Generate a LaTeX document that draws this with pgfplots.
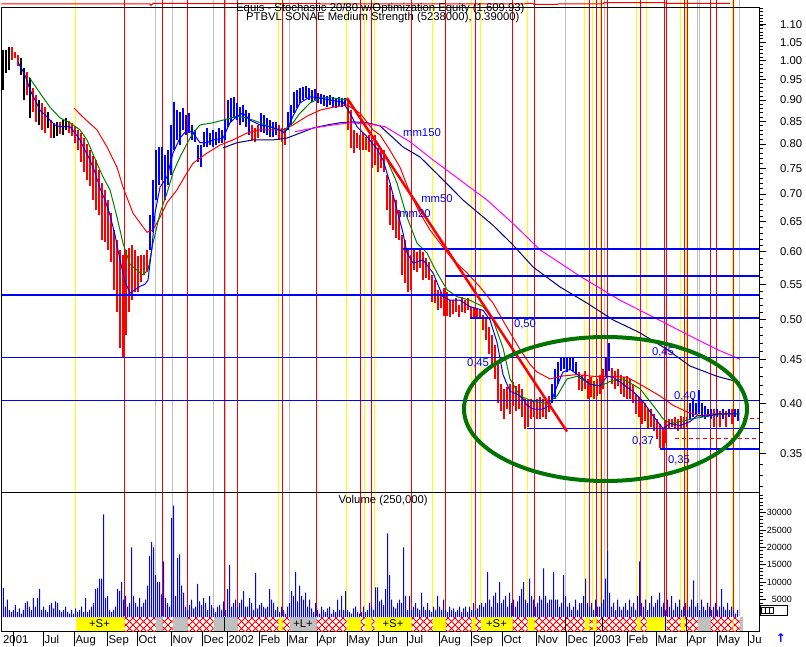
\documentclass[border=0pt]{standalone}
\usepackage{pgfplots}
\pgfplotsset{compat=1.18}
\usepackage{pgfplotstable}
\usepackage{fontspec}
\setmainfont{Liberation Sans}
\newfontfamily\dejavu{DejaVu Sans}
\usetikzlibrary{patterns}

\definecolor{mared}{RGB}{255,0,0}
\definecolor{mablue}{RGB}{0,0,255}
\definecolor{magreen}{RGB}{0,128,0}
\definecolor{manavy}{RGB}{0,0,128}
\definecolor{mamag}{RGB}{255,0,255}
\definecolor{mayel}{RGB}{255,255,0}
\definecolor{magrey}{RGB}{192,192,192}
\definecolor{ellgreen}{RGB}{0,115,0}

\pgfdeclarepatternformonly{xhatch}{\pgfqpoint{-1pt}{-1pt}}{\pgfqpoint{8pt}{8pt}}{\pgfqpoint{7pt}{7pt}}{%
  \pgfsetlinewidth{1pt}%
  \pgfpathmoveto{\pgfqpoint{0pt}{0pt}}\pgfpathlineto{\pgfqpoint{7pt}{7pt}}%
  \pgfpathmoveto{\pgfqpoint{0pt}{7pt}}\pgfpathlineto{\pgfqpoint{7pt}{0pt}}%
  \pgfusepath{stroke}}

\newcommand\ff{\fontsize{11.3}{13}\selectfont}
\newcommand\cellY[2]{\addplot[fill=mayel, draw=none] coordinates {(#1,-4100) (#2,-4100) (#2,0) (#1,0)} --cycle;}
\newcommand\cellG[2]{\addplot[fill=magrey, draw=none] coordinates {(#1,-4100) (#2,-4100) (#2,0) (#1,0)} --cycle;}
\newcommand\cellH[2]{\addplot[pattern=xhatch, pattern color=mared, draw=none] coordinates {(#1,-4100) (#2,-4100) (#2,0) (#1,0)} --cycle;}
\newcommand\cellK[1]{\addplot[black, line width=1.5pt] coordinates {(#1,-4100) (#1,0)};}

% price bars: x, low, high
\pgfplotstableread{
x lo hi
3 0.925 1.029
6 0.968 1.029
9 0.975 1.037
21 0.962 1.007
24 0.900 0.981
30 0.858 0.955
39 0.842 0.900
48 0.835 0.872
54 0.813 0.847
57 0.818 0.849
63 0.820 0.853
66 0.831 0.858
}\blackbars

\pgfplotstableread{
x lo hi
12 1.002 1.037
15 1.007 1.023
18 0.985 1.015
27 0.912 0.970
33 0.872 0.929
36 0.849 0.912
42 0.831 0.893
45 0.824 0.883
51 0.813 0.853
60 0.822 0.849
69 0.824 0.851
72 0.818 0.847
75 0.803 0.840
78 0.787 0.831
81 0.762 0.824
84 0.742 0.813
87 0.727 0.800
90 0.715 0.787
93 0.689 0.775
96 0.671 0.767
99 0.662 0.746
102 0.619 0.721
105 0.616 0.708
108 0.603 0.689
111 0.584 0.665
114 0.542 0.636
117 0.511 0.619
120 0.464 0.603
123 0.453 0.595
126 0.480 0.603
129 0.511 0.606
132 0.527 0.611
135 0.539 0.603
138 0.539 0.593
141 0.553 0.595
144 0.564 0.595
147 0.568 0.603
252 0.809 0.842
255 0.805 0.835
258 0.813 0.842
279 0.809 0.842
282 0.805 0.835
285 0.798 0.835
348 0.831 0.900
351 0.792 0.876
354 0.781 0.831
357 0.792 0.824
360 0.787 0.820
363 0.787 0.824
366 0.787 0.816
369 0.783 0.820
372 0.750 0.809
375 0.756 0.820
378 0.742 0.792
381 0.750 0.787
384 0.742 0.787
387 0.671 0.737
390 0.644 0.717
393 0.636 0.698
396 0.622 0.689
399 0.619 0.671
402 0.564 0.627
405 0.552 0.619
408 0.539 0.603
411 0.542 0.595
414 0.571 0.603
417 0.568 0.600
420 0.574 0.603
423 0.556 0.600
426 0.559 0.590
429 0.556 0.584
432 0.524 0.564
435 0.523 0.556
438 0.513 0.542
441 0.516 0.539
444 0.505 0.544
447 0.505 0.539
450 0.504 0.527
453 0.508 0.527
456 0.511 0.530
459 0.504 0.520
462 0.511 0.532
465 0.509 0.527
468 0.513 0.530
471 0.504 0.518
474 0.504 0.516
477 0.504 0.516
480 0.504 0.513
483 0.487 0.507
486 0.474 0.503
489 0.456 0.490
492 0.444 0.480
495 0.427 0.468
498 0.400 0.444
501 0.392 0.421
504 0.384 0.416
507 0.394 0.418
510 0.389 0.421
513 0.397 0.423
516 0.392 0.419
519 0.394 0.421
522 0.386 0.416
525 0.374 0.405
528 0.376 0.403
531 0.384 0.405
534 0.386 0.403
537 0.384 0.405
540 0.384 0.407
543 0.386 0.405
546 0.384 0.405
549 0.391 0.408
579 0.414 0.435
582 0.413 0.432
585 0.416 0.436
588 0.405 0.427
591 0.407 0.429
594 0.405 0.425
597 0.408 0.427
600 0.410 0.432
603 0.416 0.438
612 0.421 0.440
615 0.416 0.436
618 0.419 0.438
621 0.410 0.432
624 0.407 0.429
627 0.405 0.430
630 0.405 0.427
633 0.400 0.421
636 0.389 0.410
639 0.386 0.407
642 0.379 0.403
645 0.382 0.400
648 0.374 0.394
651 0.376 0.394
654 0.372 0.389
657 0.364 0.384
660 0.355 0.379
663 0.353 0.374
666 0.360 0.382
669 0.374 0.384
672 0.376 0.384
675 0.374 0.386
678 0.372 0.384
681 0.374 0.387
684 0.374 0.386
687 0.376 0.386
714 0.376 0.394
720 0.376 0.392
726 0.376 0.392
732 0.379 0.394
}\redbars

\pgfplotstableread{
x lo hi
150 0.603 0.662
153 0.632 0.727
156 0.689 0.787
159 0.717 0.794
162 0.727 0.794
165 0.689 0.777
168 0.717 0.787
171 0.737 0.842
174 0.787 0.895
177 0.809 0.876
180 0.798 0.872
183 0.831 0.881
186 0.820 0.865
189 0.824 0.869
192 0.809 0.842
195 0.805 0.831
198 0.762 0.798
201 0.752 0.798
204 0.794 0.827
207 0.794 0.835
210 0.798 0.824
213 0.794 0.831
216 0.798 0.827
219 0.803 0.835
222 0.803 0.831
225 0.809 0.853
228 0.838 0.900
231 0.849 0.905
234 0.858 0.908
237 0.853 0.893
240 0.842 0.883
243 0.849 0.888
246 0.838 0.876
249 0.820 0.869
261 0.827 0.869
264 0.824 0.865
267 0.820 0.858
270 0.816 0.853
273 0.816 0.849
276 0.820 0.849
288 0.831 0.872
291 0.842 0.888
294 0.869 0.920
297 0.881 0.925
300 0.893 0.929
303 0.900 0.932
306 0.905 0.934
309 0.900 0.929
312 0.895 0.925
315 0.900 0.927
318 0.893 0.917
321 0.890 0.915
324 0.886 0.912
327 0.883 0.910
330 0.888 0.912
333 0.883 0.908
336 0.881 0.905
339 0.886 0.908
342 0.883 0.905
345 0.888 0.905
552 0.400 0.421
555 0.405 0.438
558 0.421 0.447
561 0.436 0.453
564 0.438 0.453
567 0.435 0.453
570 0.438 0.452
573 0.436 0.453
576 0.432 0.447
606 0.429 0.452
609 0.436 0.470
690 0.384 0.400
693 0.386 0.405
696 0.389 0.400
699 0.389 0.414
702 0.386 0.400
705 0.384 0.397
708 0.386 0.394
711 0.384 0.394
717 0.386 0.394
723 0.384 0.394
729 0.386 0.394
735 0.386 0.394
738 0.382 0.394
}\bluebars

\begin{document}
\begin{tikzpicture}[x=1pt,y=1pt]
\useasboundingbox (0,0) rectangle (806,646);

% ---------- frame axis: vertical marker lines and equity strip ----------
\begin{axis}[at={(1.5pt,30pt)}, anchor=south west, scale only axis,
  width=757.5pt, height=616pt, xmin=1.5, xmax=759, ymin=0, ymax=616,
  hide axis, clip=false]
\addplot[ycomb, magrey, line width=1pt, mark=none] coordinates {
(155.5,616) (172.5,616) (213.5,616) (225.5,616) (289.5,616) (565.5,616)
(604.5,616) (697.5,616) (699.5,616) (739.5,616)};
\addplot[ycomb, mayel, line width=1pt, mark=none] coordinates {
(75.5,616) (278.5,616) (346.5,616) (364.5,616) (374.5,616) (432.5,616)
(471.5,616) (480.5,616) (527.5,616) (584.5,616) (592.5,616) (600.5,616)
(636.5,616) (646.5,616) (680.5,616) (686.5,616) (732.5,616)};
\addplot[ycomb, mared, line width=1pt, mark=none] coordinates {
(124.5,616) (162.5,616) (187.5,616) (224.5,616) (237.5,616) (282.5,616)
(316.5,616) (360.5,616) (371.5,616) (411.5,616) (445.5,616) (475.5,616)
(512.5,616) (534.5,616) (589.5,616) (596.5,616) (601.5,616) (607.5,616)
(640.5,616) (664.5,616) (666.5,616) (684.5,616) (687.5,616) (710.5,616)
(716.5,616) (733.5,616)};
% equity curve
\addplot[mared, line width=1pt, mark=none] coordinates {
(1.5,612) (150,612) (151,610.5) (153,612.7) (187,612.7) (188,612.3)
(320,612.3) (322,612) (525,612) (526,612.5) (533,612.5) (534,611.5)
(557,611.5) (558,612) (603,612) (604,613.3) (665,613.3) (666,612.7) (730,612.7)};
\end{axis}

% ---------- volume axis ----------
\begin{axis}[at={(1.5pt,15pt)}, anchor=south west, scale only axis,
  width=757.5pt, height=139pt, xmin=1.5, xmax=759, ymin=-4023, ymax=35920,
  axis line style={black, line width=1pt},
  xtick=\empty,
  ytick={5000,10000,15000,20000,25000,30000},
  yticklabels={5000,10000,15000,20000,25000,30000},
  minor ytick={1000,2000,...,35000},
  scaled y ticks=false,
  ytick pos=right, yticklabel pos=right, tick align=outside,
  major tick length=7pt, minor tick length=4pt,
  every tick/.style={black, line width=1pt},
  yticklabel style={font=\fontsize{9}{10}\selectfont, anchor=east, inner sep=0pt, xshift=26pt},
  clip=true]
% bottom band
\cellY{75.5}{124.5}
\cellH{124.5}{155.5}
\cellG{155.5}{162.5}
\cellH{162.5}{172.5}
\cellG{172.5}{187.5}
\cellH{187.5}{213.5}
\cellG{213.5}{224}
\cellG{225}{237.5}
\cellK{224.5}
\cellH{237.5}{278.5}
\cellY{278.5}{282.5}
\cellH{282.5}{289.5}
\cellG{289.5}{316.5}
\cellH{316.5}{346.5}
\cellY{346.5}{360.5}
\cellH{360.5}{364.5}
\cellY{364.5}{371.5}
\cellH{371.5}{374.5}
\cellY{374.5}{411.5}
\cellH{411.5}{432.5}
\cellY{432.5}{445.5}
\cellH{445.5}{471.5}
\cellY{471.5}{475.5}
\cellH{475.5}{480.5}
\cellY{480.5}{512.5}
\cellH{512.5}{527.5}
\cellY{527.5}{534.5}
\cellH{534.5}{584.5}
\cellK{565.5}
\cellY{584.5}{589.5}
\cellH{589.5}{592.5}
\cellY{592.5}{596.5}
\cellH{596.5}{636.5}
\cellK{602.5}
\cellY{636.5}{640.5}
\cellH{640.5}{646.5}
\cellY{646.5}{664.5}
\cellK{665.5}
\cellH{666.5}{680.5}
\cellY{680.5}{684.5}
\cellH{684.5}{697.5}
\cellK{686.5}
\cellG{697.5}{710.5}
\cellH{710.5}{732.5}
\cellY{732.5}{733.5}
\cellH{733.5}{739.5}
\cellG{739.5}{743}
\node[font=\ff] at (axis cs:99.5,-1900) {+S+};
\node[font=\ff] at (axis cs:303,-1900) {+L+};
\node[font=\ff] at (axis cs:393,-1900) {+S+};
\node[font=\ff] at (axis cs:496.5,-1900) {+S+};
% volume bars
\addplot[ybar, bar width=1pt, bar shift=0.5pt, fill=mablue, draw=none] coordinates {
(3,8400)(5,3000)(7,5000)(9,2000)(11,1500)(13,2000)(15,3500)(17,1500)(19,2500)(21,1000)
(23,2000)(25,4000)(27,4500)(29,3000)(31,2000)(33,5500)(35,3000)(37,5500)(39,8000)(41,2000)
(43,3000)(45,2000)(47,1500)(49,3500)(51,4000)(53,2500)(55,4500)(57,4000)(59,2000)(61,1500)
(63,2000)(65,3000)(67,1500)(69,1000)(71,2000)(73,1000)(75,2500)(77,1500)(79,2000)(81,3000)
(83,1500)(85,5500)(87,1500)(89,2000)(91,3000)(93,4000)(95,8000)(97,8400)(99,11000)(101,11000)
(103,29500)(105,5500)(107,6000)(109,2000)(111,1500)(113,2000)(115,3000)(117,8000)(119,7500)(121,10000)
(123,5000)(125,6000)(127,3000)(129,4000)(131,20000)(133,6000)(135,4000)(137,3000)(139,5500)(141,3000)
(143,4000)(145,5000)(147,9000)(149,17500)(151,21500)(153,20000)(155,12000)(157,10000)(159,10000)(161,6500)
(163,16000)(165,5500)(167,4000)(169,3000)(171,28500)(173,32000)(175,6000)(177,17000)(179,18000)(181,9000)
(183,7000)(185,3000)(187,2000)(189,3500)(191,5000)(193,2500)(195,3000)(197,9500)(199,4500)(201,3500)
(203,5500)(205,4000)(207,2000)(209,6000)(211,3500)(213,2500)(215,1500)(217,3000)(219,3500)(221,2000)
(223,4500)(225,2000)(227,8000)(229,15000)(231,3000)(233,4000)(235,5000)(237,3000)(239,4000)(241,5000)
(243,7500)(245,3000)(247,3000)(249,5500)(251,4000)(253,2000)(255,12700)(257,2500)(259,3500)(261,4000)
(263,3000)(265,2500)(267,3000)(269,8000)(271,5000)(273,4000)(275,2000)(277,3000)(279,1500)(281,3000)
(283,2000)(285,1000)(287,3000)(289,4000)(291,7500)(293,6000)(295,13000)(297,4500)(299,9000)(301,6000)
(303,5000)(305,7000)(307,3000)(309,5000)(311,2500)(313,1500)(315,4000)(317,2000)(319,1000)(321,3000)
(323,2000)(325,1500)(327,2500)(329,3000)(331,1000)(333,2000)(335,1500)(337,5000)(339,2000)(341,6000)
(343,2000)(345,7500)(347,2000)(349,1500)(351,1000)(353,2500)(355,3000)(357,1500)(359,1000)(361,1500)
(363,3000)(365,1500)(367,2000)(369,4000)(371,3000)(373,2000)(375,8500)(377,8500)(379,4500)(381,5000)
(383,3500)(385,8000)(387,24000)(389,12000)(391,5000)(393,3000)(395,2500)(397,4000)(399,5000)(401,4000)
(403,20000)(405,6000)(407,2000)(409,6000)(411,2000)(413,3000)(415,4000)(417,2500)(419,2000)(421,7000)
(423,3000)(425,2000)(427,4000)(429,2000)(431,1500)(433,3000)(435,2000)(437,6000)(439,3000)(441,2000)
(443,5000)(445,2000)(447,1500)(449,3000)(451,2000)(453,2500)(455,1500)(457,2000)(459,3000)(461,1500)
(463,2500)(465,3000)(467,1500)(469,3000)(471,2000)(473,4000)(475,2000)(477,2500)(479,3500)(481,4000)
(483,3000)(485,4000)(487,13000)(489,5000)(491,3000)(493,6000)(495,7000)(497,4000)(499,10000)(501,4000)
(503,5000)(505,6000)(507,3000)(509,7000)(511,4000)(513,5000)(515,3000)(517,4500)(519,6000)(521,8000)
(523,10000)(525,5000)(527,4000)(529,11000)(531,6000)(533,5000)(535,3000)(537,4000)(539,6000)(541,5000)
(543,14000)(545,6000)(547,4000)(549,5000)(551,5000)(553,13000)(555,5000)(557,5000)(559,3000)(561,4000)
(563,12000)(565,6000)(567,3000)(569,4000)(571,2000)(573,3000)(575,5000)(577,2000)(579,4000)(581,4000)
(583,6000)(585,11000)(587,4000)(589,3000)(591,4000)(593,2000)(595,5000)(597,3000)(599,3000)(601,4000)
(603,5000)(605,11000)(607,19000)(609,7000)(611,3000)(613,4000)(615,2000)(617,5000)(619,3000)(621,2000)
(623,3000)(625,4000)(627,2000)(629,5000)(631,3000)(633,4000)(635,2000)(637,6000)(639,16000)(641,4000)
(643,3000)(645,5000)(647,2000)(649,4000)(651,6000)(653,3000)(655,4000)(657,5000)(659,7000)(661,3000)
(663,4000)(665,2000)(667,5000)(669,3000)(671,6000)(673,2000)(675,4000)(677,3000)(679,5000)(681,2000)
(683,3000)(685,4000)(687,2000)(689,3000)(691,5000)(693,10500)(695,3000)(697,4000)(699,2000)(701,5000)
(703,3000)(705,2000)(707,4000)(709,3000)(711,2000)(713,3000)(715,4000)(717,2000)(719,3000)(721,8000)
(723,3000)(725,2000)(727,4000)(729,2000)(731,3000)(733,2000)(735,1000)(737,2000)};
\node[font=\ff, anchor=west] at (axis cs:335,33450) {Volume (250,000)};
\end{axis}

% ---------- price axis ----------
\begin{axis}[at={(1.5pt,154pt)}, anchor=south west, scale only axis,
  width=757.5pt, height=485pt, xmin=1.5, xmax=759,
  ymode=log, ymin=0.3156, ymax=1.1542,
  axis line style={black, line width=1pt},
  xtick=\empty,
  ytick={0.35,0.4,0.45,0.5,0.55,0.6,0.65,0.7,0.75,0.8,0.85,0.9,0.95,1,1.05,1.1},
  yticklabels={0.35,0.40,0.45,0.50,0.55,0.60,0.65,0.70,0.75,0.80,0.85,0.90,0.95,1.00,1.05,1.10},
  minor ytick={0.32,0.33,...,1.15},
  ytick pos=right, yticklabel pos=right, tick align=outside,
  major tick length=7pt, minor tick length=4pt,
  every tick/.style={black, line width=1pt},
  yticklabel style={font=\ff, anchor=west, inner sep=0pt, xshift=14pt},
  clip=true]
% price bars (low to high)
\addplot[draw=none, mark=none, error bars/.cd, y dir=plus, y explicit,
  error mark=none, error bar style={line width=2.2pt, draw=black, solid}]
  table[x=x, y=lo, y error plus expr=\thisrow{hi}-\thisrow{lo}] {\blackbars};
\addplot[draw=none, mark=none, error bars/.cd, y dir=plus, y explicit,
  error mark=none, error bar style={line width=2.2pt, draw=mared, solid}]
  table[x=x, y=lo, y error plus expr=\thisrow{hi}-\thisrow{lo}] {\redbars};
\addplot[draw=none, mark=none, error bars/.cd, y dir=plus, y explicit,
  error mark=none, error bar style={line width=2.2pt, draw=mablue, solid}]
  table[x=x, y=lo, y error plus expr=\thisrow{hi}-\thisrow{lo}] {\bluebars};
% moving averages
\addplot[manavy, line width=1pt, mark=none] coordinates {
(223,0.792)(237,0.803)(253,0.809)(273,0.809)(287,0.813)(300,0.824)(313,0.835)(327,0.842)
(340,0.847)(353,0.849)(367,0.847)(380,0.840)(403,0.794)(420,0.773)(437,0.739)(463,0.689)
(493,0.644)(513,0.611)(533,0.576)(560,0.546)(587,0.523)(613,0.500)(640,0.483)(667,0.462)
(690,0.442)(717,0.430)(740,0.423)};
\addplot[mamag, line width=1pt, mark=none] coordinates {
(295,0.827)(313,0.835)(333,0.842)(350,0.847)(370,0.844)(385,0.838)(397,0.822)(410,0.805)
(433,0.767)(460,0.727)(487,0.689)(513,0.647)(540,0.603)(580,0.562)(620,0.527)(653,0.504)
(687,0.481)(717,0.462)(740,0.450)};
\addplot[mared, line width=1pt, mark=none] coordinates {
(74,0.881)(83,0.860)(97,0.831)(107,0.794)(117,0.752)(123,0.713)(133,0.665)(147,0.632)
(153,0.636)(160,0.658)(167,0.684)(177,0.708)(187,0.741)(193,0.760)(207,0.781)(220,0.798)
(233,0.809)(247,0.824)(260,0.831)(283,0.831)(293,0.842)(307,0.862)(320,0.876)(333,0.883)
(347,0.888)(360,0.869)(373,0.831)(380,0.820)(390,0.787)(400,0.752)(410,0.702)(420,0.665)
(430,0.636)(440,0.614)(453,0.587)(467,0.567)(480,0.546)(493,0.523)(507,0.490)(520,0.462)
(530,0.444)(537,0.435)(550,0.427)(560,0.430)(577,0.432)(593,0.430)(610,0.430)(627,0.429)
(643,0.419)(660,0.408)(673,0.398)(687,0.391)(700,0.387)(713,0.389)(730,0.389)};
\addplot[magreen, line width=1pt, mark=none] coordinates {
(29,0.957)(40,0.917)(50,0.883)(60,0.858)(70,0.847)(80,0.831)(87,0.809)(97,0.760)(103,0.733)
(110,0.708)(117,0.658)(123,0.614)(130,0.580)(137,0.571)(143,0.564)(148,0.571)(153,0.614)
(160,0.665)(167,0.702)(173,0.741)(180,0.773)(188,0.805)(193,0.824)(200,0.842)(213,0.847)
(223,0.853)(237,0.862)(247,0.858)(260,0.847)(273,0.835)(283,0.827)(293,0.847)(300,0.869)
(310,0.893)(320,0.905)(333,0.905)(347,0.900)(357,0.869)(367,0.831)(377,0.805)(387,0.767)
(397,0.721)(407,0.658)(417,0.614)(427,0.598)(437,0.567)(447,0.542)(457,0.532)(470,0.527)
(483,0.518)(493,0.500)(503,0.464)(510,0.427)(520,0.408)(533,0.402)(547,0.400)(557,0.408)
(567,0.427)(577,0.430)(590,0.421)(600,0.419)(610,0.424)(623,0.427)(640,0.416)(653,0.398)
(663,0.384)(670,0.379)(680,0.381)(693,0.384)(710,0.387)(727,0.389)(740,0.389)};
\addplot[mablue, line width=1pt, mark=none] coordinates {
(18,0.996)(25,0.962)(30,0.925)(35,0.900)(40,0.876)(45,0.865)(50,0.853)(55,0.842)(60,0.838)
(70,0.838)(75,0.824)(80,0.809)(85,0.787)(90,0.767)(95,0.742)(100,0.711)(105,0.689)(110,0.662)
(115,0.627)(120,0.587)(125,0.554)(130,0.537)(135,0.542)(140,0.547)(145,0.550)(148,0.556)
(152,0.608)(155,0.665)(160,0.713)(167,0.733)(173,0.781)(180,0.813)(187,0.831)(193,0.824)
(200,0.803)(207,0.803)(213,0.809)(223,0.813)(230,0.847)(237,0.862)(243,0.869)(250,0.853)
(260,0.842)(270,0.838)(280,0.831)(284,0.824)(288,0.835)(293,0.862)(300,0.893)(310,0.908)
(320,0.905)(330,0.900)(343,0.895)(350,0.869)(357,0.838)(367,0.816)(377,0.790)(383,0.767)
(390,0.721)(397,0.671)(403,0.631)(407,0.598)(413,0.582)(423,0.587)(433,0.567)(443,0.532)
(450,0.527)(460,0.527)(470,0.518)(483,0.513)(490,0.500)(497,0.471)(503,0.432)(510,0.413)
(517,0.410)(523,0.405)(527,0.398)(533,0.394)(543,0.394)(550,0.398)(557,0.419)(563,0.435)
(570,0.438)(580,0.430)(590,0.421)(600,0.419)(607,0.430)(613,0.429)(623,0.421)(633,0.413)
(643,0.402)(653,0.387)(663,0.374)(670,0.379)(680,0.377)(690,0.381)(697,0.387)(707,0.387)
(720,0.389)(737,0.389)};
% support / resistance lines
\addplot[mablue, line width=1.7pt, mark=none] coordinates {(1.5,0.534) (759,0.534)};
\addplot[mablue, line width=1.7pt, mark=none] coordinates {(1.5,0.452) (759,0.452)};
\addplot[mablue, line width=1.7pt, mark=none] coordinates {(1.5,0.403) (759,0.403)};
\addplot[mablue, line width=1.7pt, mark=none] coordinates {(403,0.604) (759,0.604)};
\addplot[mablue, line width=1.7pt, mark=none] coordinates {(445,0.562) (759,0.562)};
\addplot[mablue, line width=1.7pt, mark=none] coordinates {(470,0.503) (759,0.503)};
\addplot[mablue, line width=1.7pt, mark=none] coordinates {(527,0.374) (759,0.374)};
\addplot[mablue, line width=1.7pt, mark=none] coordinates {(660,0.354) (759,0.354)};
\addplot[mared, line width=1pt, dash pattern=on 4pt off 3pt, mark=none] coordinates {(675,0.364) (759,0.364)};
\addplot[mared, line width=1pt, dash pattern=on 4pt off 3pt, mark=none] coordinates {(743,0.384) (759,0.384)};
% trend line
\addplot[mared, line width=2.5pt, mark=none] coordinates {(347,0.905) (567,0.371)};
\end{axis}

% ---------- annotations ----------
\draw[ellgreen, line width=4pt] (605.5,237) ellipse [x radius=141.5, y radius=72];

\node[font=\ff, anchor=west, inner sep=0pt] at (236,637) {Equis - Stochastic 20/80 w/Optimization Equity (1,609.93)};
\node[font=\ff, anchor=west, inner sep=0pt] at (246,628) {PTBVL SONAE Medium Strength (5238000), 0.39000)};

\begin{scope}[mablue, font=\ff]
\node at (422,513) {mm150};
\node at (437,447) {mm50};
\node at (415,432) {mm20};
\node at (525,322) {0,50};
\node at (478,283) {0,45};
\node at (663,294) {0,45};
\node at (685,250) {0,40};
\node at (643,205) {0,37};
\node at (679,186) {0,35};
\end{scope}

% month ticks and labels
\foreach \xx in {13.5,43.5,74.5,107.5,137.5,171.5,202.5,227.5,259.5,287.5,317.5,347.5,378.5,407.5,439.5,471.5,502.5,536.5,566.5,594.5,627.5,656.5,687.5,717.5,748.5}
  \draw[black, line width=1pt] (\xx,15) -- (\xx,0);
\foreach \xx/\lab in {1.5/2001,43/Jul,74/Aug,107/Sep,137/Oct,171/Nov,202/Dec,227/2002,259/Feb,287/Mar,317/Apr,347/May,378/Jun,407/Jul,439/Aug,471/Sep,502/Oct,536/Nov,566/Dec,594/2003,627/Feb,656/Mar,687/Apr,717/May,748/Ju}
  \node[font=\ff, anchor=base west, inner sep=0pt] at (\xx+1.5,3) {\lab};

% widget and arrow
\draw[black, line width=1pt, fill=white] (760,31) rectangle (787,41);
\draw[black, line width=0.8pt] (761.5,33) rectangle (765.5,39);
\draw[black, line width=0.8pt] (765.5,33) rectangle (769.5,39);
\draw[black, line width=0.8pt] (769.5,33) rectangle (773.5,39);
\node[mablue, font=\dejavu\bfseries\fontsize{12}{14}\selectfont] at (781,8) {↑};
\end{tikzpicture}
\end{document}
